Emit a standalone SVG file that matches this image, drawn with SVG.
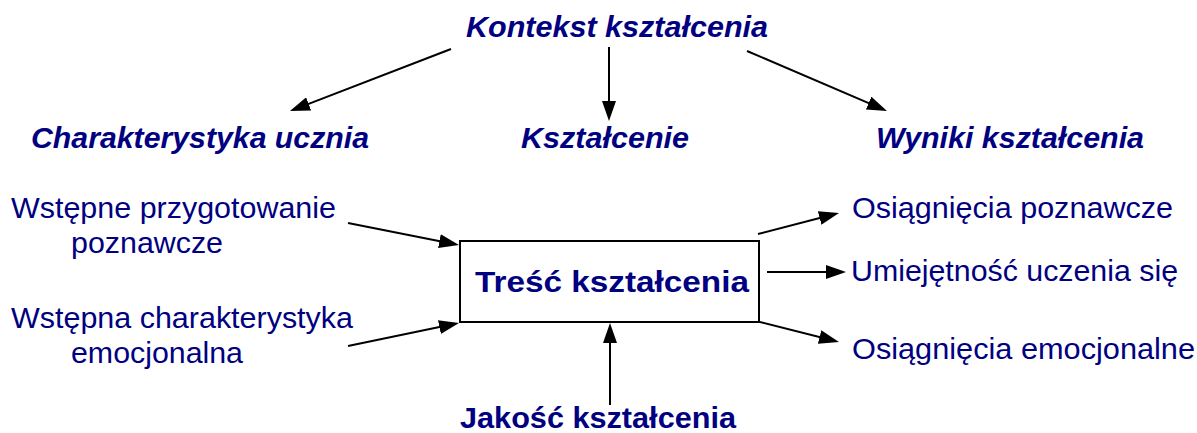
<svg xmlns="http://www.w3.org/2000/svg" width="1197" height="433" viewBox="0 0 1197 433">
  <style>
    text { font-family: "Liberation Sans", Arial, sans-serif; fill: #000080; font-size: 29px; }
    .head { font-weight: bold; font-style: italic; }
    .bold { font-weight: bold; }
    .conn line { stroke: #000; stroke-width: 2; marker-end: url(#arrow); }
    .box { fill: #fff; stroke: #000; stroke-width: 2; }
  </style>
  <defs>
    <marker id="arrow" markerUnits="userSpaceOnUse" markerWidth="20" markerHeight="14" refX="16" refY="7" orient="auto">
      <path d="M0,0 L20,7 L0,14 z" fill="#000"/>
    </marker>
  </defs>

  <rect width="1197" height="433" fill="#fff"/>

  <!-- connectors -->
  <g id="connectors" class="conn">
    <line x1="451" y1="49" x2="293.7" y2="109.6"/>
    <line x1="609" y1="47" x2="609" y2="117"/>
    <line x1="747" y1="51" x2="883.3" y2="109.4"/>
    <line x1="348" y1="223" x2="455.1" y2="244.2"/>
    <line x1="348" y1="346" x2="455.1" y2="323.8"/>
    <line x1="758" y1="234" x2="835.1" y2="214"/>
    <line x1="767" y1="272" x2="842" y2="272"/>
    <line x1="760" y1="322" x2="835.1" y2="341"/>
    <line x1="610" y1="405" x2="610" y2="327"/>
  </g>

  <g id="kontekst">
    <text class="head" x="466" y="37" textLength="302" lengthAdjust="spacingAndGlyphs">Kontekst kształcenia</text>
  </g>
  <g id="charakterystyka">
    <text class="head" x="31" y="148" textLength="338" lengthAdjust="spacingAndGlyphs">Charakterystyka ucznia</text>
  </g>
  <g id="ksztalcenie">
    <text class="head" x="521" y="148" textLength="168" lengthAdjust="spacingAndGlyphs">Kształcenie</text>
  </g>
  <g id="wyniki">
    <text class="head" x="876" y="148" textLength="268" lengthAdjust="spacingAndGlyphs">Wyniki kształcenia</text>
  </g>

  <g id="przygotowanie">
    <text x="11" y="218" textLength="325" lengthAdjust="spacingAndGlyphs">Wstępne przygotowanie</text>
    <text x="71" y="253" textLength="152" lengthAdjust="spacingAndGlyphs">poznawcze</text>
  </g>
  <g id="emocjonalna">
    <text x="11" y="328" textLength="342" lengthAdjust="spacingAndGlyphs">Wstępna charakterystyka</text>
    <text x="71" y="363" textLength="172" lengthAdjust="spacingAndGlyphs">emocjonalna</text>
  </g>

  <g id="tresc">
    <rect class="box" x="460" y="241" width="299" height="81"/>
    <text class="bold" x="475" y="292" font-size="33" textLength="274" lengthAdjust="spacingAndGlyphs">Treść kształcenia</text>
  </g>

  <g id="osiagniecia-poznawcze">
    <text x="852" y="218" textLength="321" lengthAdjust="spacingAndGlyphs">Osiągnięcia poznawcze</text>
  </g>
  <g id="umiejetnosc">
    <text x="851" y="281" textLength="327" lengthAdjust="spacingAndGlyphs">Umiejętność uczenia się</text>
  </g>
  <g id="osiagniecia-emocjonalne">
    <text x="852" y="359" textLength="343" lengthAdjust="spacingAndGlyphs">Osiągnięcia emocjonalne</text>
  </g>

  <g id="jakosc">
    <text class="bold" x="460" y="428" textLength="276" lengthAdjust="spacingAndGlyphs">Jakość kształcenia</text>
  </g>
</svg>
